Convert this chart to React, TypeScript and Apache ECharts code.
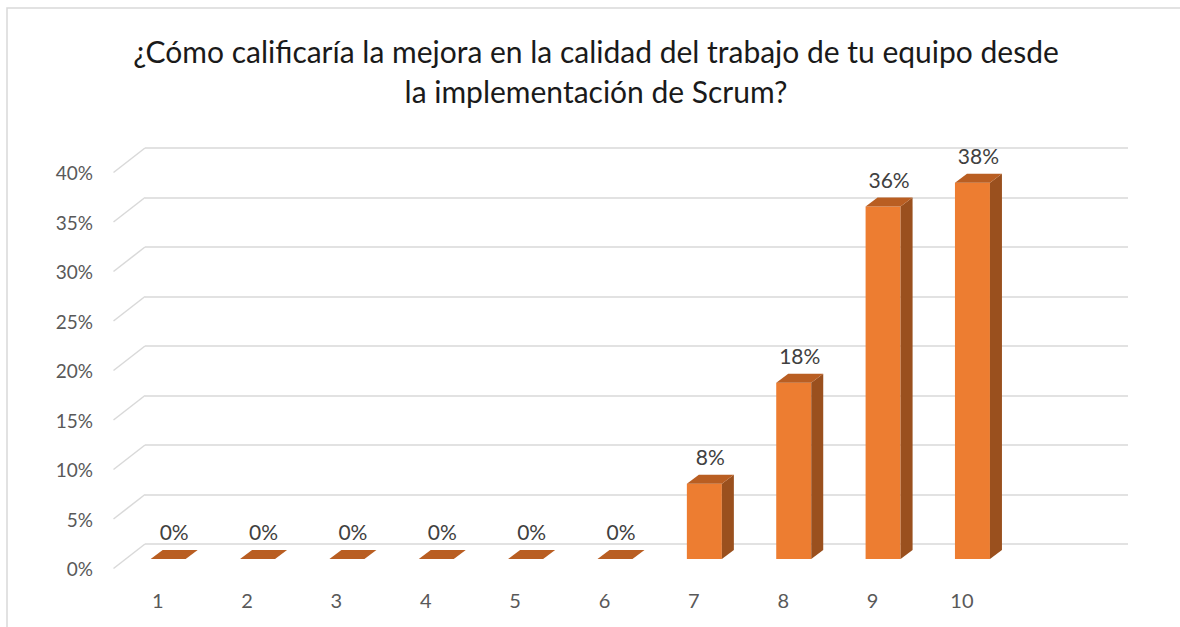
import React, { useEffect, useRef } from "react";
import * as echarts from "echarts";

const title = "¿Cómo calificaría la mejora en la calidad del trabajo de tu equipo desde\nla implementación de Scrum?";
const categories = ["1", "2", "3", "4", "5", "6", "7", "8", "9", "10"];
const values = [0, 0, 0, 0, 0, 0, 0.076, 0.178, 0.356, 0.38];
const yTicks = [0, 0.05, 0.1, 0.15, 0.2, 0.25, 0.3, 0.35, 0.4];

const FONT = "Lato";

export default function App() {
  const ref = useRef<HTMLDivElement>(null);
  useEffect(() => {
    if (!ref.current) return;
    const chart = echarts.init(ref.current, null, { renderer: "svg" });
    const axisCats = [...categories, ""];
    const pct = (v: number) => Math.round(v * 100) + "%";
    const DX = 12, DY = -9;
    const option: any = {
      animation: false,
      backgroundColor: "#ffffff",
      textStyle: { fontFamily: FONT },
      graphic: [
        {
          type: "rect",
          shape: { x: 7, y: 8, width: 1250, height: 700 },
          style: { fill: "none", stroke: "#D9D9D9", lineWidth: 1.5 },
          silent: true,
        },
        {
          type: "text",
          x: 596,
          y: 31,
          style: {
            text: title,
            fontFamily: FONT,
            fontSize: 30,
            lineHeight: 40,
            fill: "#1a1a1a",
            textAlign: "center",
            textVerticalAlign: "top",
          },
        },
      ],
      grid: [
        { left: 145, right: 52, top: 148, bottom: 83 },
        { left: 113, right: 84, top: 172.5, bottom: 58.5 },
      ],
      xAxis: [
        { type: "category", gridIndex: 0, data: axisCats, show: false },
        {
          type: "category",
          gridIndex: 1,
          data: axisCats,
          axisLine: { show: false },
          axisTick: { show: false },
          axisLabel: { color: "#595959", fontSize: 20, margin: 21, fontFamily: FONT },
        },
      ],
      yAxis: [
        {
          type: "value",
          gridIndex: 0,
          min: 0,
          max: 0.4,
          interval: 0.05,
          axisLine: { show: false },
          axisTick: { show: false },
          axisLabel: { show: false },
          splitLine: { lineStyle: { color: "#D9D9D9", width: 1.5 } },
        },
        {
          type: "value",
          gridIndex: 1,
          min: 0,
          max: 0.4,
          interval: 0.05,
          axisLine: { show: false },
          axisTick: { show: false },
          splitLine: { show: false },
          axisLabel: { color: "#595959", fontSize: 19, margin: 20, fontFamily: FONT, formatter: (v: number) => pct(v) },
        },
      ],
      series: [
        {
          type: "custom",
          xAxisIndex: 0,
          yAxisIndex: 0,
          data: yTicks.map((v) => [0, v]),
          renderItem: (params: any, api: any) => {
            const c = api.coord([0, api.value(1)]);
            const bw = api.size([1, 0])[0];
            const left = c[0] - bw / 2;
            return {
              type: "line",
              shape: { x1: left, y1: c[1], x2: left - 31.5, y2: c[1] + 24.5 },
              style: { stroke: "#D9D9D9", lineWidth: 1.5 },
            };
          },
        },
        {
          type: "custom",
          xAxisIndex: 0,
          yAxisIndex: 0,
          data: values.map((v, i) => [i, v]),
          renderItem: (params: any, api: any) => {
            const idx = api.value(0);
            const v = api.value(1);
            const top = api.coord([idx, v]);
            const base = api.coord([idx, 0]);
            const cx = top[0] - 21.5;
            const hw = 17.5;
            const xl = cx - hw, xr = cx + hw;
            const yt = top[1] + 15;
            const yb = base[1] + 15;
            const children: any[] = [];
            if (yb - yt > 0.5) {
              children.push({
                type: "rect",
                shape: { x: xl, y: yt, width: xr - xl, height: yb - yt },
                style: { fill: "#ED7D31" },
              });
              children.push({
                type: "polygon",
                shape: { points: [[xr, yt], [xr + DX, yt + DY], [xr + DX, yb + DY], [xr, yb]] },
                style: { fill: "#9A501E" },
              });
            }
            children.push({
              type: "polygon",
              shape: { points: [[xl, yt], [xr, yt], [xr + DX, yt + DY], [xl + DX, yt + DY]] },
              style: { fill: "#B95E22" },
            });
            children.push({
              type: "text",
              x: cx + 6,
              y: yt + DY - 8,
              style: {
                text: pct(v),
                fontFamily: FONT,
                fontSize: 21,
                fill: "#404040",
                textAlign: "center",
                textVerticalAlign: "bottom",
              },
            });
            return { type: "group", children };
          },
        },
      ],
    };
    chart.setOption(option);
    return () => chart.dispose();
  }, []);
  return (
    <div
      ref={ref}
      style={{ position: "fixed", left: 0, top: 0, width: 1180, height: 627 }}
    />
  );
}
